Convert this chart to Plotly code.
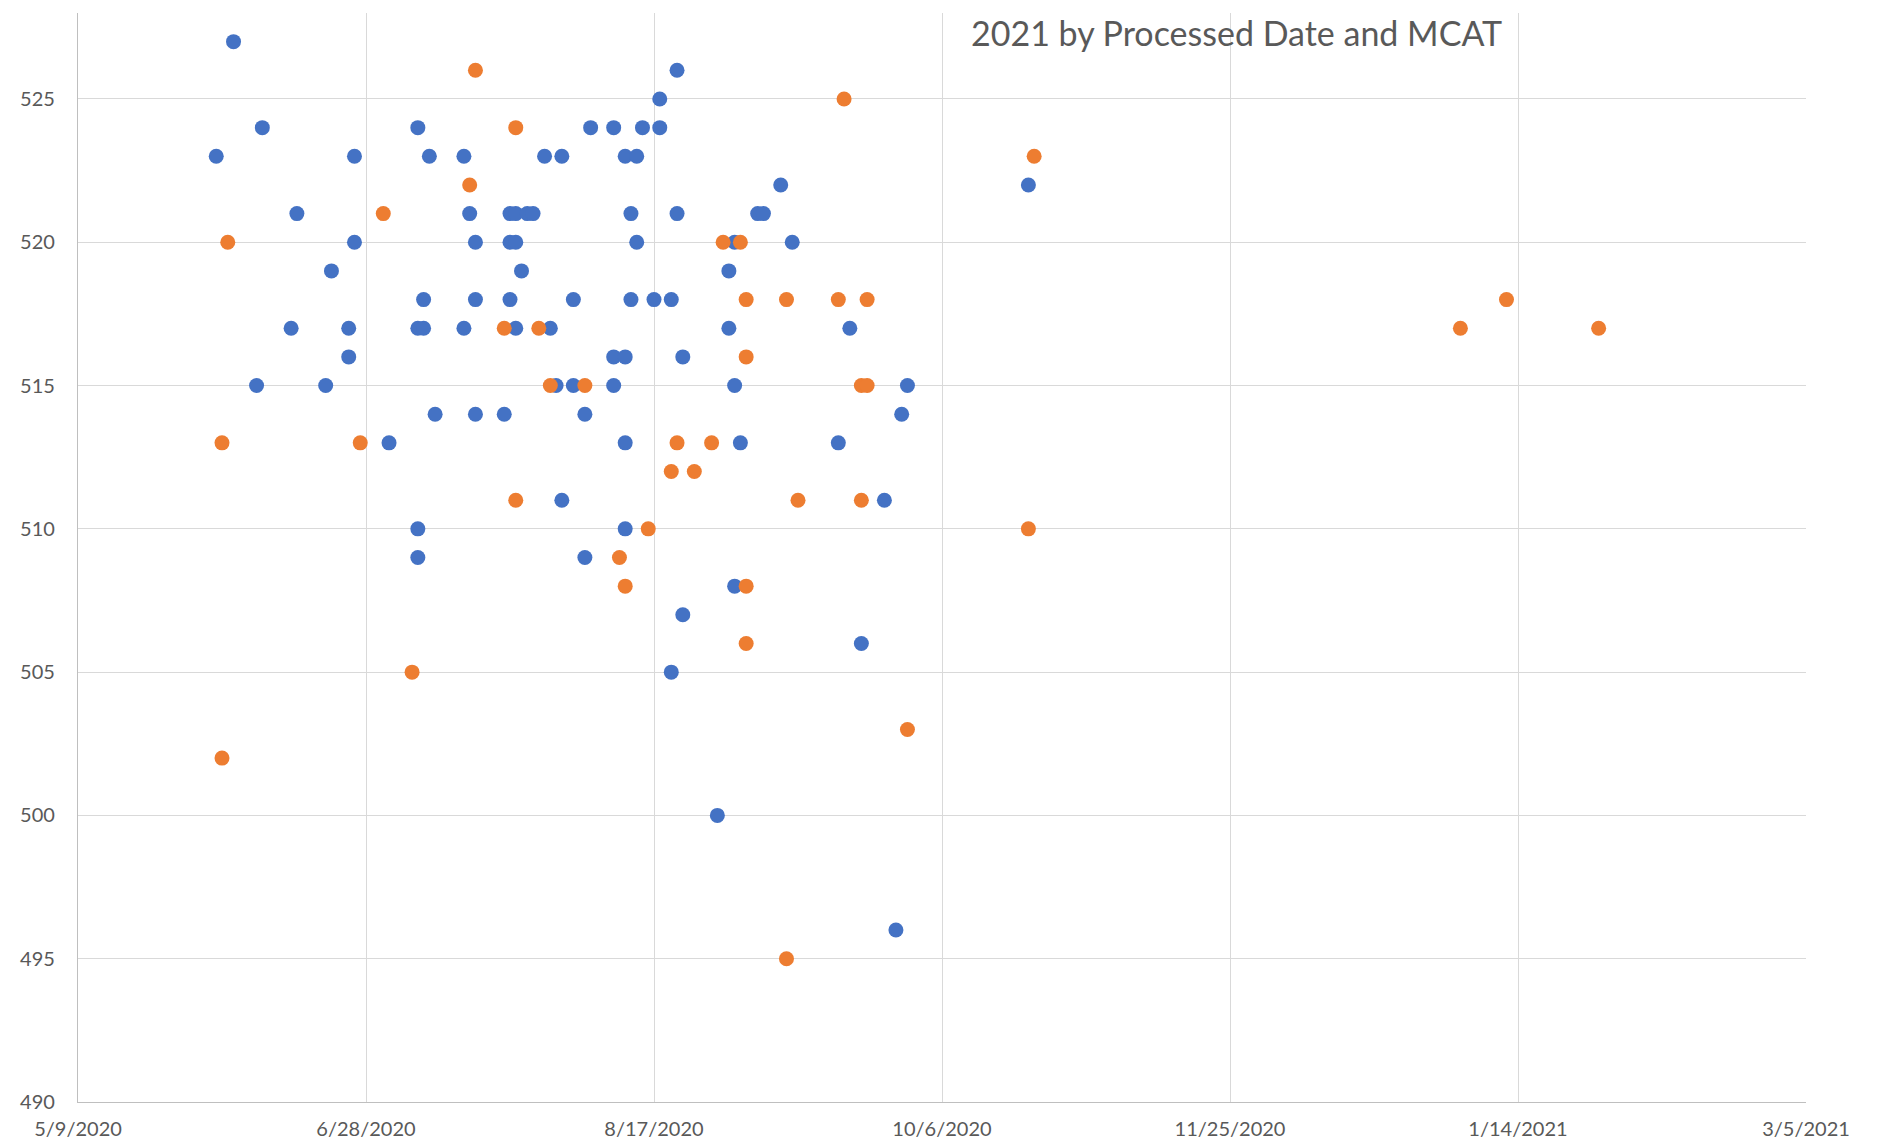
import plotly.graph_objects as go

# Series 1 (blue): processed date and MCAT score
blue_dates = [
    "2020-06-05", "2020-06-02", "2020-06-10", "2020-06-16", "2020-06-22", "2020-06-15",
    "2020-06-09", "2020-06-21", "2020-06-25", "2020-06-25", "2020-06-26", "2020-06-26",
    "2020-07-02", "2020-07-07", "2020-07-09", "2020-07-08", "2020-07-07", "2020-07-08",
    "2020-07-10", "2020-07-07", "2020-07-07", "2020-07-15", "2020-07-16", "2020-07-17",
    "2020-07-17", "2020-07-15", "2020-07-17", "2020-07-22", "2020-07-23", "2020-07-24",
    "2020-07-26", "2020-07-27", "2020-07-23", "2020-07-24", "2020-07-25", "2020-07-23",
    "2020-07-24", "2020-07-29", "2020-08-01", "2020-07-30", "2020-07-31", "2020-08-03",
    "2020-08-03", "2020-08-05", "2020-08-01", "2020-08-05", "2020-08-06", "2020-08-10",
    "2020-08-12", "2020-08-14", "2020-08-15", "2020-08-18", "2020-08-18", "2020-08-21",
    "2020-08-13", "2020-08-14", "2020-08-13", "2020-08-17", "2020-08-20", "2020-08-21",
    "2020-08-10", "2020-08-12", "2020-08-10", "2020-08-12", "2020-08-12", "2020-08-22",
    "2020-08-22", "2020-08-20", "2020-08-28", "2020-08-30", "2020-08-31", "2020-08-30",
    "2020-08-31", "2020-09-01", "2020-08-31", "2020-09-04", "2020-09-05", "2020-09-08",
    "2020-09-10", "2020-09-18", "2020-09-20", "2020-09-26", "2020-09-22", "2020-09-28",
    "2020-09-29", "2020-09-30", "2020-10-21",
]
blue_mcat = [
    527, 523, 524, 521, 519, 517,
    515, 515, 517, 516, 523, 520,
    513, 524, 523, 518, 517, 517,
    514, 510, 509, 523, 521, 520,
    518, 517, 514, 514, 521, 521,
    521, 521, 520, 520, 519, 518,
    517, 523, 523, 517, 515, 515,
    518, 514, 511, 509, 524, 524,
    523, 523, 524, 525, 524, 526,
    521, 520, 518, 518, 518, 521,
    516, 516, 515, 513, 510, 516,
    507, 505, 500, 519, 520, 517,
    515, 513, 508, 521, 521, 522,
    520, 513, 517, 511, 506, 496,
    514, 515, 522,
]

# Series 2 (orange)
orange_dates = [
    "2020-06-04", "2020-06-03", "2020-06-03", "2020-06-27", "2020-07-01", "2020-07-06",
    "2020-07-17", "2020-07-16", "2020-07-24", "2020-07-22", "2020-07-28", "2020-07-24",
    "2020-07-30", "2020-08-05", "2020-08-11", "2020-08-12", "2020-08-16", "2020-08-20",
    "2020-08-21", "2020-08-24", "2020-08-27", "2020-08-29", "2020-09-01", "2020-09-02",
    "2020-09-02", "2020-09-02", "2020-09-02", "2020-09-09", "2020-09-09", "2020-09-11",
    "2020-09-18", "2020-09-19", "2020-09-23", "2020-09-22", "2020-09-23", "2020-09-22",
    "2020-09-30", "2020-10-21", "2020-10-22", "2021-01-04", "2021-01-12", "2021-01-28",
]
orange_mcat = [
    520, 513, 502, 513, 521, 505,
    526, 522, 524, 517, 517, 511,
    515, 515, 509, 508, 510, 512,
    513, 512, 513, 520, 520, 518,
    516, 508, 506, 518, 495, 511,
    518, 525, 518, 515, 515, 511,
    503, 510, 523, 517, 518, 517,
]

title_text = "2021 by Processed Date and MCAT"
x_range = ["2020-05-09", "2021-03-05"]
y_range = [490, 528]

FONT = "Lato, 'Open Sans', sans-serif"
TXT = "#595959"
GRID = "#d9d9d9"

fig = go.Figure()
fig.add_trace(go.Scatter(
    x=blue_dates, y=blue_mcat, mode="markers", name="Series 1",
    marker=dict(color="#4472C4", size=15, line=dict(width=0)),
))
fig.add_trace(go.Scatter(
    x=orange_dates, y=orange_mcat, mode="markers", name="Series 2",
    marker=dict(color="#ED7D31", size=15, line=dict(width=0)),
))

fig.update_layout(
    width=1880, height=1144,
    margin=dict(l=78, r=74, t=13, b=42, autoexpand=False),
    paper_bgcolor="white", plot_bgcolor="white",
    showlegend=False,
    font=dict(family=FONT, color=TXT, size=20),
    annotations=[dict(
        text=title_text, xref="paper", yref="paper",
        x=0.6707, y=0.982, xanchor="center", yanchor="middle",
        showarrow=False, font=dict(family=FONT, size=34, color=TXT),
    )],
)
fig.update_xaxes(
    type="date", range=x_range, tick0="2020-05-09", dtick=50 * 86400000,
    tickformat="%-m/%-d/%Y", showgrid=True, gridcolor=GRID, gridwidth=1.3,
    showline=True, linecolor="#bfbfbf", linewidth=1.3, zeroline=False,
    ticks="", ticklabelstandoff=9, automargin=False,
    tickfont=dict(family=FONT, size=20, color=TXT),
)
fig.update_yaxes(
    range=y_range, tick0=490, dtick=5, showgrid=True, gridcolor=GRID, gridwidth=1.3,
    showline=True, linecolor="#bfbfbf", linewidth=1.3, zeroline=False,
    ticks="", ticklabelstandoff=18, automargin=False,
    tickfont=dict(family=FONT, size=20, color=TXT),
)

fig.write_html(
    "out.html",
    config={"displayModeBar": False},
    post_script="document.body.style.margin='0';document.body.style.overflow='hidden';",
)
